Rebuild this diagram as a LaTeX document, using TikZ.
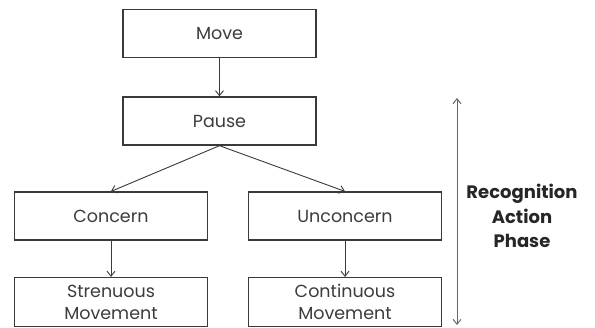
\documentclass[tikz,border=0pt]{standalone}
\usepackage{fontspec}
\setmainfont{Poppins}
\usetikzlibrary{arrows.meta}
\definecolor{boxline}{HTML}{3A3A3A}
\definecolor{txt}{HTML}{3C3C3C}
\begin{document}
\begin{tikzpicture}[x=1pt,y=-1pt,
  stagebox/.style={draw=boxline, line width=1.4pt, rectangle, minimum width=193pt, minimum height=48pt, inner sep=0pt, align=center, font=\fontsize{17.5}{22}\selectfont, text=txt},
  conn/.style={draw=boxline, line width=0.9pt, -{Straight Barb[length=5pt,width=8pt]}},
  span/.style={draw=gray!80!black, line width=0.9pt, {Straight Barb[length=5pt,width=8pt]}-{Straight Barb[length=5pt,width=8pt]}}]
\useasboundingbox[fill=white] (0,0) rectangle (595,327);
\node[stagebox] (move) at (219.5,33.5) {Move};
\node[stagebox] (pause) at (219.5,121) {Pause};
\node[stagebox, line width=1.2pt] (concern) at (111,216) {Concern};
\node[stagebox, line width=1.2pt] (unconcern) at (345,216) {Unconcern};
\node[stagebox, line width=1.2pt, minimum height=49pt] (strenuous) at (111,302) {Strenuous\\Movement};
\node[stagebox, line width=1.2pt, minimum height=49pt] (continuous) at (345,302) {Continuous\\Movement};
\draw[conn] (move) -- (pause);
\draw[conn] (pause.south) -- (concern.north);
\draw[conn] (pause.south) -- (unconcern.north);
\draw[conn] (concern) -- (strenuous);
\draw[conn] (unconcern) -- (continuous);
\coordinate (top) at (457,98);
\coordinate (bot) at (457,325);
\draw[span] (top) -- (bot);
\node[align=center, font=\bfseries\fontsize{18}{24.5}\selectfont, text=black!85] (label) at (522,216) {Recognition\\Action\\Phase};
\end{tikzpicture}
\end{document}
